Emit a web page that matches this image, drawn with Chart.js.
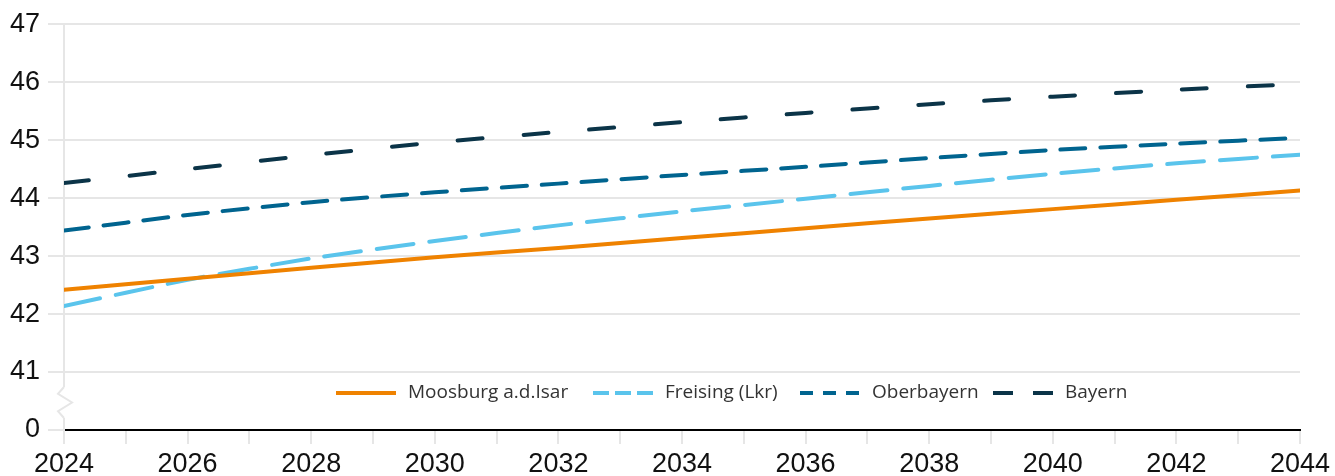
<!DOCTYPE html>
<html><head><meta charset="utf-8">
<script src="https://cdn.jsdelivr.net/npm/chart.js@4/dist/chart.umd.min.js"></script>
<style>html,body{margin:0;padding:0;background:#fff}#wrap{width:1335px;height:476px}</style>
</head><body><div id="wrap"><canvas id="c" width="1335" height="476"></canvas></div>
<script>
const years = [2024,2026,2028,2030,2032,2034,2036,2038,2040,2042,2044];
const moosburg   = [42.42,42.61,42.80,42.98,43.14,43.31,43.48,43.65,43.81,43.97,44.13];
const freising   = [42.14,42.59,42.96,43.26,43.53,43.77,43.99,44.21,44.42,44.60,44.75];
const oberbayern = [43.44,43.71,43.93,44.10,44.25,44.40,44.54,44.69,44.83,44.94,45.04];
const bayern     = [44.26,44.50,44.74,44.96,45.14,45.31,45.47,45.62,45.75,45.87,45.97];
const seriesNames = ['Moosburg a.d.Isar','Freising (Lkr)','Oberbayern','Bayern'];
const yTickValues = [40,41,42,43,44,45,46,47];
const yTickLabels = ['0','41','42','43','44','45','46','47'];

const colors = ['#ef8200','#5ac4ec','#00648f','#0b3448'];
const chartDash = [[],[37,16],[25,15],[25,41]];
const legendDash = [[],[16,6],[13,10],[20,20]];
const legendX = [336,593,800,993];

function pts(arr){ return years.map((y,i)=>({x:y,y:arr[i]})); }
const allSeries = [moosburg,freising,oberbayern,bayern];

const gridCol = '#e6e6e6';
const labelFont = {family:'"Liberation Sans", Arial, sans-serif', size:27};

const breakAndLegend = {
  id:'breakAndLegend',
  afterDraw(chart){
    const ctx = chart.ctx;
    const ys = chart.scales.y;
    const x0 = chart.chartArea.left;
    const yTop = ys.getPixelForValue(41) + 15;
    const yBot = ys.getPixelForValue(40) - 12;
    ctx.save();
    ctx.fillStyle = '#fff';
    ctx.fillRect(x0-3, yTop, 6, yBot-yTop);
    ctx.strokeStyle = gridCol;
    ctx.lineWidth = 2;
    ctx.lineJoin = 'miter';
    ctx.beginPath();
    const h = yBot - yTop;
    ctx.moveTo(x0, yTop);
    ctx.lineTo(x0-6, yTop + h*0.22);
    ctx.lineTo(x0+8, yTop + h*0.5);
    ctx.lineTo(x0-6, yTop + h*0.78);
    ctx.lineTo(x0, yBot);
    ctx.stroke();
    // legend
    const ly = 393;
    ctx.font = '19px "Open Sans", "Noto Sans", sans-serif';
    ctx.textBaseline = 'middle';
    ctx.textAlign = 'left';
    for (let i=0;i<seriesNames.length;i++){
      const lx = legendX[i];
      ctx.strokeStyle = colors[i];
      ctx.lineWidth = 4;
      ctx.lineCap = 'butt';
      ctx.setLineDash(legendDash[i]);
      ctx.beginPath();
      ctx.moveTo(lx, ly);
      ctx.lineTo(lx+60, ly);
      ctx.stroke();
      ctx.setLineDash([]);
      ctx.fillStyle = '#333';
      ctx.fillText(seriesNames[i], lx+72, ly);
    }
    ctx.restore();
  }
};

new Chart(document.getElementById('c'), {
  type:'line',
  data:{
    datasets: allSeries.map((s,i)=>({
      label: seriesNames[i],
      data: pts(s),
      borderColor: colors[i],
      backgroundColor: colors[i],
      borderWidth: 4,
      borderDash: chartDash[i],
      borderCapStyle: 'round',
      pointRadius: 0,
      tension: 0.2,
      fill:false
    }))
  },
  options:{
    responsive:false,
    animation:false,
    devicePixelRatio:1,
    layout:{padding:{top:24,right:35,left:0,bottom:0}},
    plugins:{legend:{display:false},tooltip:{enabled:false}},
    scales:{
      x:{
        type:'linear', min:2024, max:2044,
        afterFit(s){ s.height = 46; },
        ticks:{stepSize:1, autoSkip:false, maxRotation:0, padding:4, color:'#111', font:labelFont,
          callback:(v)=> (v%2===0 ? String(v) : '')},
        grid:{drawOnChartArea:false, drawTicks:true, tickLength:14, color:gridCol, lineWidth:2},
        border:{display:true, color:'#000', width:2}
      },
      y:{
        min:40, max:47,
        afterFit(s){ s.width = 64; },
        afterBuildTicks(s){ s.ticks = yTickValues.map(v=>({value:v})); },
        ticks:{padding:8, color:'#111', font:labelFont,
          callback:(v)=> { const i = yTickValues.indexOf(v); return i>=0 ? yTickLabels[i] : ''; }},
        grid:{color:gridCol, lineWidth:2, tickLength:16, drawTicks:true},
        border:{display:true, color:gridCol, width:2}
      }
    }
  },
  plugins:[breakAndLegend]
});
</script></body></html>
